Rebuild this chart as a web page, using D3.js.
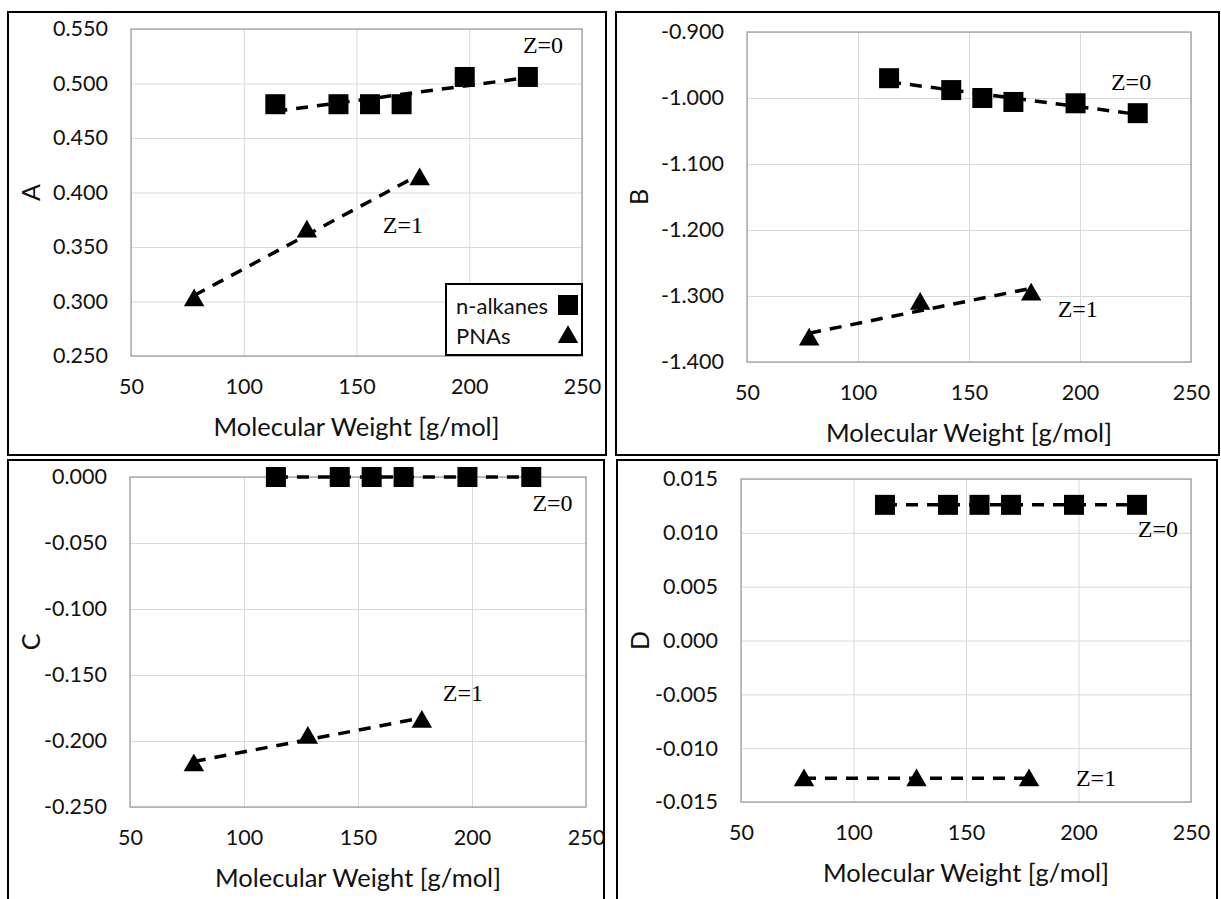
<!DOCTYPE html>
<html>
<head>
<meta charset="utf-8">
<script src="https://cdn.jsdelivr.net/npm/d3@7"></script>
<style>
  html, body { margin: 0; padding: 0; background: #fff; }
  svg { display: block; }
</style>
</head>
<body>
<svg id="chart" width="1221" height="899"></svg>
<script>
// Molecular weights [g/mol]
const mwAlkanes = [114, 142, 156, 170, 198, 226];   // n-octane ... n-hexadecane
const mwPNAs    = [78, 128, 178];                    // benzene, naphthalene, anthracene

// Parameter A
const aAlkanes = [0.481, 0.481, 0.481, 0.481, 0.506, 0.506];
const aPNAs    = [0.303, 0.366, 0.414];
// Parameter B
const bAlkanes = [-0.970, -0.988, -1.000, -1.006, -1.008, -1.023];
const bPNAs    = [-1.363, -1.309, -1.295];
// Parameter C
const cAlkanes = [0.000, 0.000, 0.000, 0.000, 0.000, 0.000];
const cPNAs    = [-0.217, -0.196, -0.184];
// Parameter D
const dAlkanes = [0.0126, 0.0126, 0.0126, 0.0126, 0.0126, 0.0126];
const dPNAs    = [-0.0128, -0.0128, -0.0128];

// Axis ticks
const xTicks = [50, 100, 150, 200, 250];
const aTicks = [0.250, 0.300, 0.350, 0.400, 0.450, 0.500, 0.550];
const bTicks = [-1.400, -1.300, -1.200, -1.100, -1.000, -0.900];
const cTicks = [-0.250, -0.200, -0.150, -0.100, -0.050, 0.000];
const dTicks = [-0.015, -0.010, -0.005, 0.000, 0.005, 0.010, 0.015];

// Curve labels, placed in data coordinates [MW, value]
const aLabels = [["Z=0", 232.7, 0.535], ["Z=1", 170.6, 0.370]];
const bLabels = [["Z=0", 223, -0.975], ["Z=1", 199, -1.320]];
const cLabels = [["Z=0", 235.3, -0.0197], ["Z=1", 196, -0.164]];
const dLabels = [["Z=0", 235.3, 0.0104], ["Z=1", 207.8, -0.0128]];

const legendNames = ["n-alkanes", "PNAs"];
const xTitle = "Molecular Weight [g/mol]";

// Panel frames and plot areas (pixels)
const panels = [
  { name: "A", alk: aAlkanes, pna: aPNAs, ticks: aTicks, labels: aLabels, legend: true,
    box: [8, 12, 598, 443], plot: [131, 29, 582, 356] },
  { name: "B", alk: bAlkanes, pna: bPNAs, ticks: bTicks, labels: bLabels, legend: false,
    box: [616, 12, 603, 443], plot: [747, 32, 1191, 362] },
  { name: "C", alk: cAlkanes, pna: cPNAs, ticks: cTicks, labels: cLabels, legend: false,
    box: [8, 460, 596, 460], plot: [130, 477, 586, 807] },
  { name: "D", alk: dAlkanes, pna: dPNAs, ticks: dTicks, labels: dLabels, legend: false,
    box: [617, 460, 600, 460], plot: [741, 479, 1191, 802] }
];

const fmt = d3.formatLocale({ decimal: ".", thousands: ",", grouping: [3], currency: ["", ""], minus: "-" }).format(".3f");
const sansFont = "Lato, 'Open Sans', sans-serif";
const serifFont = "'Liberation Serif', 'Times New Roman', serif";

const svg = d3.select("#chart");
const markerSize = 20;
const squareSym = d3.symbol().type(d3.symbolSquare).size(markerSize * markerSize);
const triSize = markerSize * markerSize * Math.sqrt(3) / 4;
const triSym = d3.symbol().type(d3.symbolTriangle).size(triSize * 1.05);

// least-squares straight line over the x-range of a series
function trend(xs, ys) {
  const mx = d3.mean(xs), my = d3.mean(ys);
  let sxy = 0, sxx = 0;
  xs.forEach((x, i) => { sxy += (x - mx) * (ys[i] - my); sxx += (x - mx) * (x - mx); });
  const k = sxx === 0 ? 0 : sxy / sxx;
  const x0 = d3.min(xs), x1 = d3.max(xs);
  return [[x0, my + k * (x0 - mx)], [x1, my + k * (x1 - mx)]];
}

panels.forEach(p => {
  const [l, t, r, b] = p.plot;
  const g = svg.append("g");

  const x = d3.scaleLinear().domain([50, 250]).range([l, r]);
  const y = d3.scaleLinear().domain(d3.extent(p.ticks)).range([b, t]);

  // grid
  g.append("g")
    .attr("transform", `translate(0,${b})`)
    .call(d3.axisBottom(x).tickValues(xTicks).tickSize(-(b - t)).tickFormat(""))
    .call(s => s.select(".domain").remove())
    .call(s => s.selectAll("line").attr("stroke", "#d9d9d9").attr("stroke-width", 1));
  g.append("g")
    .attr("transform", `translate(${l},0)`)
    .call(d3.axisLeft(y).tickValues(p.ticks).tickSize(-(r - l)).tickFormat(""))
    .call(s => s.select(".domain").remove())
    .call(s => s.selectAll("line").attr("stroke", "#d9d9d9").attr("stroke-width", 1));

  // plot-area border
  g.append("rect")
    .attr("x", l).attr("y", t).attr("width", r - l).attr("height", b - t)
    .attr("fill", "none").attr("stroke", "#a0a0a0").attr("stroke-width", 1.3);

  // tick labels
  g.append("g")
    .attr("transform", `translate(0,${b})`)
    .call(d3.axisBottom(x).tickValues(xTicks).tickSize(0).tickPadding(23).tickFormat(d3.format("d")))
    .call(s => s.select(".domain").remove())
    .call(s => s.selectAll("text").attr("font-family", sansFont).attr("font-size", 21.5).attr("fill", "#111"));
  g.append("g")
    .attr("transform", `translate(${l},0)`)
    .call(d3.axisLeft(y).tickValues(p.ticks).tickSize(0).tickPadding(23).tickFormat(fmt))
    .call(s => s.select(".domain").remove())
    .call(s => s.selectAll("text").attr("font-family", sansFont).attr("font-size", 21.5).attr("fill", "#111"));

  // axis titles
  g.append("text")
    .attr("x", (l + r) / 2).attr("y", b + 70)
    .attr("text-anchor", "middle").attr("dominant-baseline", "central")
    .attr("font-family", sansFont).attr("font-size", 25.5).attr("fill", "#111")
    .text(xTitle);
  g.append("text")
    .attr("transform", `translate(${p.box[0] + 22},${(t + b) / 2}) rotate(-90)`)
    .attr("text-anchor", "middle").attr("dominant-baseline", "central")
    .attr("font-family", sansFont).attr("font-size", 25).attr("fill", "#111")
    .text(p.name);

  // trend lines
  const line = d3.line().x(d => x(d[0])).y(d => y(d[1]));
  [[mwAlkanes, p.alk], [mwPNAs, p.pna]].forEach(([xs, ys]) => {
    g.append("path")
      .attr("d", line(trend(xs, ys)))
      .attr("fill", "none").attr("stroke", "#000")
      .attr("stroke-width", 3.5).attr("stroke-dasharray", "12,9");
  });

  // markers
  g.selectAll(".sq").data(mwAlkanes.map((m, i) => [m, p.alk[i]])).join("path")
    .attr("transform", d => `translate(${x(d[0])},${y(d[1])})`)
    .attr("d", squareSym()).attr("fill", "#000");
  g.selectAll(".tri").data(mwPNAs.map((m, i) => [m, p.pna[i]])).join("path")
    .attr("transform", d => `translate(${x(d[0])},${y(d[1]) + 2})`)
    .attr("d", triSym()).attr("fill", "#000");

  // curve labels
  p.labels.forEach(([txt, mx, my]) => {
    g.append("text")
      .attr("x", x(mx)).attr("y", y(my))
      .attr("text-anchor", "middle").attr("dominant-baseline", "central")
      .attr("font-family", serifFont).attr("font-size", 24)
      .text(txt);
  });

  // legend
  if (p.legend) {
    const lx = 446, ly = 284, lw = 136, lh = 71;
    const lg = g.append("g");
    lg.append("rect").attr("x", lx).attr("y", ly).attr("width", lw).attr("height", lh)
      .attr("fill", "#fff").attr("stroke", "#000").attr("stroke-width", 2);
    legendNames.forEach((nm, i) => {
      const cy = ly + 21 + i * 30;
      lg.append("text").attr("x", lx + 10).attr("y", cy)
        .attr("dominant-baseline", "central")
        .attr("font-family", sansFont).attr("font-size", 22).attr("fill", "#111").text(nm);
      lg.append("path")
        .attr("transform", `translate(${lx + lw - 14},${cy + (i ? 2 : 0)})`)
        .attr("d", i ? triSym() : squareSym()).attr("fill", "#000");
    });
  }

  // panel frame
  svg.append("rect")
    .attr("x", p.box[0]).attr("y", p.box[1]).attr("width", p.box[2]).attr("height", p.box[3])
    .attr("fill", "none").attr("stroke", "#000").attr("stroke-width", 2);
});
</script>
</body>
</html>
